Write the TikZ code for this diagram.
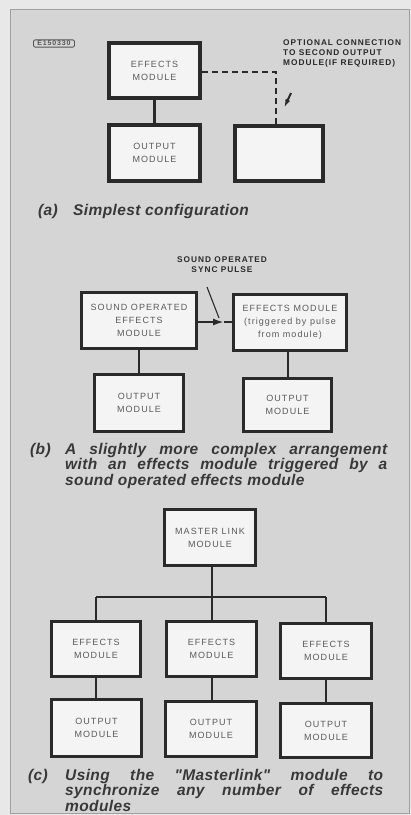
\documentclass[tikz,border=0pt]{standalone}
\usepackage{fontspec}
\setmainfont{Liberation Sans}
\newfontfamily\capfont[LetterSpace=2.5]{Liberation Sans}
\newfontfamily\boxfont[LetterSpace=12]{Liberation Sans}
\newfontfamily\notefont[LetterSpace=12]{Liberation Sans}
\usetikzlibrary{arrows.meta}
\definecolor{bg}{HTML}{D5D5D5}
\definecolor{outerbg}{HTML}{E8E8E8}
\definecolor{ink}{HTML}{2A2A2A}
\definecolor{txt}{HTML}{5A5A5A}
\definecolor{capc}{HTML}{383838}
\definecolor{boxfill}{HTML}{F4F4F4}
\hbadness=10000
\begin{document}
\begin{tikzpicture}[x=1pt,y=-1pt,
  mod/.style={draw=ink, line width=3pt, fill=boxfill, inner sep=0pt, align=center,
    font=\boxfont\fontsize{9}{12.8}\selectfont, text=txt},
  wire/.style={draw=ink, line width=2pt},
  note/.style={font=\notefont\bfseries\fontsize{8.3}{9.6}\selectfont, text=ink, inner sep=0pt},
  capt/.style={font=\capfont\bfseries\itshape\fontsize{15.5}{15.5}\selectfont, text=capc, inner sep=0pt},
  captbody/.style={capt, align=justify, anchor=base west}]
\useasboundingbox (0,0) rectangle (411,815);
\fill[outerbg] (0,0) rectangle (411,815);
\draw[fill=bg, draw=gray!75, line width=1pt] (10,9) rectangle (409,813);

% ---------- (a) ----------
\node[draw=ink!80, rounded corners=2pt, line width=0.9pt, inner xsep=4pt, inner ysep=1.2pt,
  font=\boxfont\fontsize{7}{7}\selectfont\bfseries, text=ink!80] (fig) at (54,43.5) {E150330};
\node[mod, line width=4pt, minimum width=91pt, minimum height=55pt] (ea) at (154.5,70.5) {EFFECTS\\MODULE};
\node[mod, line width=4pt, minimum width=91pt, minimum height=56pt] (oa) at (154.5,153) {OUTPUT\\MODULE};
\node[mod, line width=4pt, minimum width=88pt, minimum height=55pt] (xa) at (279,153.5) {};
\draw[wire, line width=3pt] (ea) -- (oa);
\coordinate (dc) at (276,72);
\draw[ink, line width=2.5pt, dash pattern=on 6pt off 4pt] (ea.east |- dc) -- (dc) -- (dc |- xa.north);
\node[note, anchor=base west, align=left] (opt) at (283,65) {OPTIONAL CONNECTION\\TO SECOND OUTPUT\\MODULE(IF REQUIRED)};
\coordinate (la1) at (291,93);
\coordinate (la2) at (284,108);
\draw[ink, line width=2pt, -{Latex[length=9pt,width=5pt]}] (la1) -- (la2);
\node[capt, anchor=base west] (capa) at (38,215) {(a)};
\node[capt, anchor=base west] (capat) at (73,215) {Simplest configuration};

% ---------- (b) ----------
\node[note, align=center, anchor=base] (sync) at (222,272) {SOUND OPERATED\\SYNC PULSE};
\node[mod, minimum width=115pt, minimum height=56pt] (sb) at (139,320.5) {SOUND OPERATED\\EFFECTS\\MODULE};
\node[mod, minimum width=113pt, minimum height=56pt] (eb) at (290,322.5) {EFFECTS MODULE\\(triggered by pulse\\from module)};
\node[mod, minimum width=89pt, minimum height=57pt] (so) at (139,403) {OUTPUT\\MODULE};
\node[mod, minimum width=88pt, minimum height=53pt] (eo) at (287.5,405) {OUTPUT\\MODULE};
\coordinate (ab) at (224,322);
\draw[wire, -{Latex[length=11pt,width=7pt]}] (sb.east |- ab) -- (ab);
\draw[wire] (ab) -- (eb.west |- ab);
\coordinate (pb1) at (207,287);
\coordinate (pb2) at (219,318);
\draw[ink, line width=1.1pt] (pb1) -- (pb2);
\draw[wire] (sb.south) -- (sb.south |- so.north);
\draw[wire] (eo.north) -- (eo.north |- eb.south);
\node[capt, anchor=base west] (capb) at (30,454) {(b)};
\node[captbody, text width=322pt] (capbt) at (65,454)
  {A slightly more complex arrangement\linebreak with an effects module triggered by a\linebreak sound operated effects module};

% ---------- (c) ----------
\node[mod, minimum width=91pt, minimum height=56pt] (ml) at (210,537.5) {MASTER LINK\\MODULE};
\node[mod, minimum width=89pt, minimum height=55pt] (el) at (96,649) {EFFECTS\\MODULE};
\node[mod, minimum width=90pt, minimum height=55pt] (em) at (211.5,649) {EFFECTS\\MODULE};
\node[mod, minimum width=91pt, minimum height=55pt] (er) at (326,651) {EFFECTS\\MODULE};
\node[mod, minimum width=90pt, minimum height=57pt] (ol) at (96.5,728) {OUTPUT\\MODULE};
\node[mod, minimum width=91pt, minimum height=55pt] (om) at (211,729) {OUTPUT\\MODULE};
\node[mod, minimum width=91pt, minimum height=54pt] (orr) at (326,730.5) {OUTPUT\\MODULE};
\coordinate (bus) at (212,597);
\draw[wire] (bus) -- (bus |- ml.south);
\draw[wire] (el.north |- bus) -- (er.north |- bus);
\draw[wire] (el.north) -- (el.north |- bus);
\draw[wire] (em.north) -- (em.north |- bus);
\draw[wire] (er.north) -- (er.north |- bus);
\draw[wire] (el.south) -- (el.south |- ol.north);
\draw[wire] (em.south) -- (em.south |- om.north);
\draw[wire] (er.south) -- (er.south |- orr.north);
\node[capt, anchor=base west] (capc) at (28,780) {(c)};
\node[captbody, text width=318pt] (capct) at (65,780)
  {Using the "Masterlink" module to\linebreak synchronize any number of effects\linebreak modules};
\end{tikzpicture}
\end{document}
